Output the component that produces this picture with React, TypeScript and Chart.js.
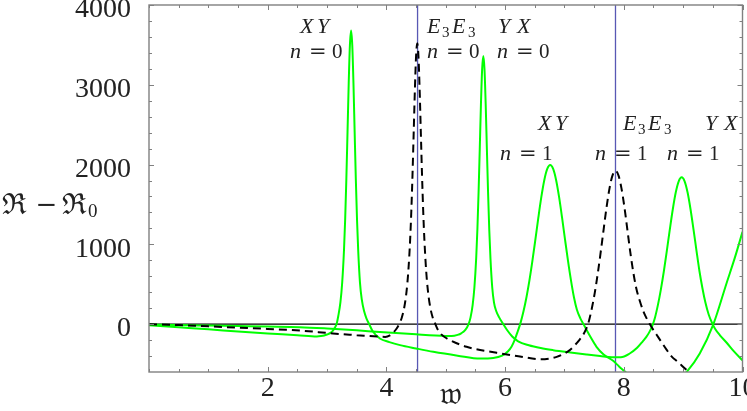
import React, { useEffect, useRef } from 'react';
import { Chart, registerables } from 'chart.js';

Chart.register(...registerables);

// ---- data ----
// XY resonance curve (green): peaks n=0 and n=1
const xyX = [0, 0.5, 1.0, 1.5, 2.0, 2.5, 2.83, 2.9, 2.95, 3.0, 3.05, 3.10, 3.13, 3.16, 3.19, 3.225, 3.255, 3.285, 3.305, 3.325, 3.345, 3.365, 3.385, 3.405, 3.425, 3.445, 3.465, 3.485, 3.505, 3.525, 3.555, 3.585, 3.625, 3.665, 3.71, 3.77, 3.89, 4.05, 4.23, 4.5, 4.79, 5.2, 5.58, 5.8, 5.95, 6.05, 6.11, 6.16, 6.21, 6.26, 6.31, 6.36, 6.41, 6.46, 6.51, 6.56, 6.61, 6.66, 6.71, 6.76, 6.81, 6.86, 6.91, 6.96, 7.01, 7.06, 7.11, 7.16, 7.21, 7.27, 7.32, 7.43, 7.54, 7.66, 7.82, 7.92, 8.02, 8.1, 8.3, 8.6, 8.9, 9.06, 9.28, 9.51, 9.73, 9.87, 10.0];
const xyY = [-15, -40, -65, -92, -117, -138, -155, -150, -143, -130, -112, -80, -45, 0, 105, 273, 518, 919, 1309, 1812, 2410, 3020, 3496, 3680, 3496, 3020, 2410, 1812, 1309, 919, 518, 310, 160, 70, 0, -90, -180, -225, -263, -305, -347, -395, -432, -425, -395, -340, -280, -200, -98, 16, 161, 337, 548, 792, 1059, 1334, 1591, 1804, 1945, 1994, 1945, 1804, 1591, 1334, 1059, 792, 548, 337, 180, 70, 0, -150, -284, -380, -460, -530, -595, -650, -760, -820, -700, -598, -368, 0, 510, 830, 1157];

// YX resonance curve (green)
const yxX = [0, 0.5, 1.0, 1.5, 2.0, 2.54, 3.0, 3.5, 3.89, 4.5, 5.0, 5.1, 5.2, 5.26, 5.33, 5.383, 5.418, 5.453, 5.483, 5.513, 5.533, 5.553, 5.573, 5.593, 5.613, 5.633, 5.653, 5.673, 5.693, 5.713, 5.733, 5.753, 5.783, 5.813, 5.85, 5.90, 5.96, 6.03, 6.12, 6.22, 6.4, 6.6, 6.81, 7.1, 7.37, 7.6, 7.8, 7.95, 8.10, 8.22, 8.32, 8.38, 8.43, 8.475, 8.525, 8.575, 8.625, 8.675, 8.725, 8.775, 8.825, 8.875, 8.925, 8.975, 9.025, 9.075, 9.125, 9.175, 9.225, 9.275, 9.325, 9.375, 9.43, 9.49, 9.54, 9.62, 9.73, 9.86, 10.0];
const yxY = [-8, -12, -18, -24, -30, -38, -55, -78, -100, -128, -148, -150, -135, -115, -72, -2, 85, 238, 462, 829, 1187, 1649, 2196, 2755, 3192, 3360, 3192, 2755, 2196, 1649, 1187, 829, 462, 270, 165, 85, 10, -70, -155, -215, -265, -300, -326, -355, -380, -400, -415, -415, -368, -300, -215, -160, -100, -30, 81, 241, 436, 663, 919, 1184, 1437, 1649, 1790, 1840, 1790, 1649, 1437, 1184, 919, 663, 450, 270, 120, 10, -60, -140, -230, -345, -455];

// E3E3 resonance curve (black dashed)
const e3X = [0, 0.5, 1.0, 1.5, 2.0, 2.54, 3.1, 3.5, 3.89, 3.98, 4.06, 4.12, 4.17, 4.22, 4.26, 4.30, 4.34, 4.37, 4.40, 4.42, 4.44, 4.46, 4.48, 4.50, 4.52, 4.54, 4.56, 4.58, 4.60, 4.62, 4.64, 4.67, 4.70, 4.74, 4.78, 4.82, 4.87, 4.92, 5.02, 5.35, 5.86, 6.25, 6.59, 6.87, 7.09, 7.18, 7.25, 7.31, 7.36, 7.41, 7.46, 7.51, 7.56, 7.61, 7.66, 7.71, 7.76, 7.81, 7.86, 7.91, 7.96, 8.01, 8.06, 8.11, 8.16, 8.21, 8.27, 8.33, 8.40, 8.47, 8.55, 8.63, 8.72, 8.80, 8.92, 9.06, 9.2, 9.4];
const e3Y = [0, -12, -28, -44, -60, -80, -117, -138, -158, -160, -140, -102, -58, 9, 84, 206, 414, 669, 1059, 1421, 1876, 2405, 2941, 3359, 3520, 3359, 2941, 2405, 1876, 1421, 1059, 669, 414, 206, 84, 9, -75, -125, -180, -284, -360, -405, -440, -410, -326, -260, -200, -140, -70, 34, 193, 389, 628, 898, 1186, 1468, 1705, 1865, 1922, 1865, 1705, 1468, 1186, 898, 650, 450, 290, 160, 50, -40, -130, -220, -320, -400, -480, -575, -650, -740];

// vertical reference lines (E3E3 resonance positions)
const resonanceLines = [4.525, 7.86];

const xRange = [0, 10];
const yRange = [-600, 4000];
const xTickValues = [2, 4, 6, 8, 10];
const yTickValues = [0, 1000, 2000, 3000, 4000];
const xMinorStep = 0.5;
const yMinorStep = 200;

// peak annotations: [text, dx(px), style]  i=italic, r=roman, s=subscript
type Run = [string, number, string];
const runSets: Record<string, Run[]> = {
  XY: [['X', 0, 'i'], ['Y', 17, 'i']],
  YX: [['Y', 0, 'i'], ['X', 19, 'i']],
  EE: [['E', 0, 'i'], ['3', 15, 's'], ['E', 25, 'i'], ['3', 41, 's']],
  n0: [['n', 0, 'i'], ['=', 19, 'r'], ['0', 42, 'r']],
  n1: [['n', 0, 'i'], ['=', 19, 'r'], ['1', 42, 'r']],
};
const peakLabelKeys = ['XY', 'n0', 'EE', 'n0', 'YX', 'n0', 'XY', 'n1', 'EE', 'n1', 'YX', 'n1'];
const peakLabelX = [2.544, 2.376, 4.684, 4.684, 5.88, 5.864, 6.554, 5.914, 7.987, 7.515, 9.368, 8.728];
const peakLabelY = [3649, 3335, 3649, 3335, 3649, 3335, 2433, 2056, 2433, 2056, 2433, 2056];

const zip = (xs: number[], ys: number[]) => xs.map((x, i) => ({ x, y: ys[i] }));

const GREEN = '#00ff00';
const SERIF = "'Liberation Serif', 'DejaVu Serif', serif";

const decorPlugin = {
  id: 'decor',
  afterDatasetsDraw(chart: any) {
    const { ctx, scales } = chart;
    const xs = scales.x, ys = scales.y;
    ctx.save();
    ctx.fillStyle = '#222';
    ctx.textBaseline = 'alphabetic';
    ctx.textAlign = 'left';
    peakLabelKeys.forEach((k, i) => {
      const bx = xs.getPixelForValue(peakLabelX[i]);
      const by = ys.getPixelForValue(peakLabelY[i]);
      runSets[k].forEach(([t, dx, st]) => {
        if (st === 'i') ctx.font = `italic 22px ${SERIF}`;
        else if (st === 's') ctx.font = `15px ${SERIF}`;
        else if (t === '=') ctx.font = `21px 'DejaVu Serif', serif`;
        else ctx.font = `21px ${SERIF}`;
        ctx.fillText(t, bx + dx, by + (st === 's' ? 4 : 0));
      });
    });
    ctx.restore();
  },
  afterDraw(chart: any) {
    const { ctx, chartArea: a, scales } = chart;
    const xs = scales.x, ys = scales.y;
    ctx.save();
    ctx.strokeStyle = '#808080';
    ctx.lineWidth = 1.4;
    ctx.strokeRect(a.left, a.top, a.right - a.left, a.bottom - a.top);
    ctx.lineWidth = 1;
    ctx.beginPath();
    for (let v = xRange[0]; v <= xRange[1] + 1e-9; v += xMinorStep) {
      const px = Math.round(xs.getPixelForValue(v)) + 0.5;
      const major = xTickValues.some((t) => Math.abs(t - v) < 1e-6);
      const len = major ? 5 : 3;
      ctx.moveTo(px, a.bottom); ctx.lineTo(px, a.bottom - len);
      ctx.moveTo(px, a.top); ctx.lineTo(px, a.top + len);
    }
    for (let v = -400; v <= yRange[1] + 1e-9; v += yMinorStep) {
      const py = Math.round(ys.getPixelForValue(v)) + 0.5;
      const major = yTickValues.some((t) => Math.abs(t - v) < 1e-6);
      const len = major ? 5 : 3;
      ctx.moveTo(a.left, py); ctx.lineTo(a.left + len, py);
      ctx.moveTo(a.right, py); ctx.lineTo(a.right - len, py);
    }
    ctx.stroke();

    // axis titles
    ctx.fillStyle = '#222';
    ctx.textBaseline = 'alphabetic';
    ctx.textAlign = 'left';
    ctx.font = `29px 'DejaVu Serif', serif`;
    const rw = ctx.measureText('ℜ').width;
    ctx.fillText('ℜ', 2, 214);
    ctx.fillText('ℜ', 62, 214);
    ctx.textAlign = 'center';
    ctx.font = `26px 'DejaVu Serif', serif`;
    ctx.fillText('−', 46.5, 213);
    ctx.textAlign = 'left';
    ctx.font = `19px ${SERIF}`;
    ctx.fillText('0', 62 + rw + 1, 217);
    ctx.textAlign = 'center';
    ctx.font = `32px 'DejaVu Serif', 'DejaVu Sans', serif`;
    ctx.fillText('𝔴', 451, 404);
    ctx.restore();
  },
};

export default function App() {
  const ref = useRef<HTMLCanvasElement>(null);
  useEffect(() => {
    document.body.style.margin = '0';
    const lineDs = (data: any, color: string, width: number, extra: any = {}) => ({
      data, borderColor: color, borderWidth: width, pointRadius: 0, fill: false, ...extra,
    });
    const chart = new Chart(ref.current!, {
      type: 'line',
      data: {
        datasets: [
          lineDs(zip(xyX, xyY), GREEN, 2, { cubicInterpolationMode: 'monotone', order: 1 }),
          lineDs(zip(yxX, yxY), GREEN, 2, { cubicInterpolationMode: 'monotone', order: 1 }),
          lineDs(zip(e3X, e3Y), '#000', 2, { cubicInterpolationMode: 'monotone', borderDash: [8, 5], order: 0 }),
          lineDs([{ x: xRange[0], y: 0 }, { x: xRange[1], y: 0 }], '#000', 1.2, { order: 3 }),
          ...resonanceLines.map((v) =>
            lineDs([{ x: v, y: yRange[0] }, { x: v, y: yRange[1] }], 'rgb(88,88,180)', 1.3, { order: 2 })
          ),
        ],
      },
      options: {
        responsive: false,
        devicePixelRatio: 1,
        animation: false,
        layout: { padding: { left: 0, right: 4.5, top: 5, bottom: 0 } },
        plugins: { legend: { display: false }, tooltip: { enabled: false } },
        scales: {
          x: {
            type: 'linear',
            min: xRange[0],
            max: xRange[1],
            grid: { display: false, drawTicks: false },
            border: { display: false },
            ticks: {
              font: { family: SERIF, size: 28 },
              color: '#222',
              padding: 0,
              maxRotation: 0,
              autoSkip: false,
              callback: (v: any) => String(v),
            },
            afterBuildTicks: (s: any) => { s.ticks = xTickValues.map((v) => ({ value: v })); },
            afterFit: (s: any) => { s.height = 39; s.paddingLeft = 0; s.paddingRight = 0; },
          },
          y: {
            type: 'linear',
            min: yRange[0],
            max: yRange[1],
            grid: { display: false, drawTicks: false },
            border: { display: false },
            ticks: {
              font: { family: SERIF, size: 28 },
              color: '#222',
              padding: 18,
              labelOffset: 5,
              autoSkip: false,
              callback: (v: any) => String(v),
            },
            afterBuildTicks: (s: any) => { s.ticks = yTickValues.map((v) => ({ value: v })); },
            afterFit: (s: any) => { s.width = 149; s.paddingTop = 0; s.paddingBottom = 0; },
          },
        },
      },
      plugins: [decorPlugin],
    } as any);
    return () => chart.destroy();
  }, []);
  return (
    <div style={{ width: 747, height: 411 }}>
      <canvas ref={ref} width={747} height={411} style={{ display: 'block' }} />
    </div>
  );
}
